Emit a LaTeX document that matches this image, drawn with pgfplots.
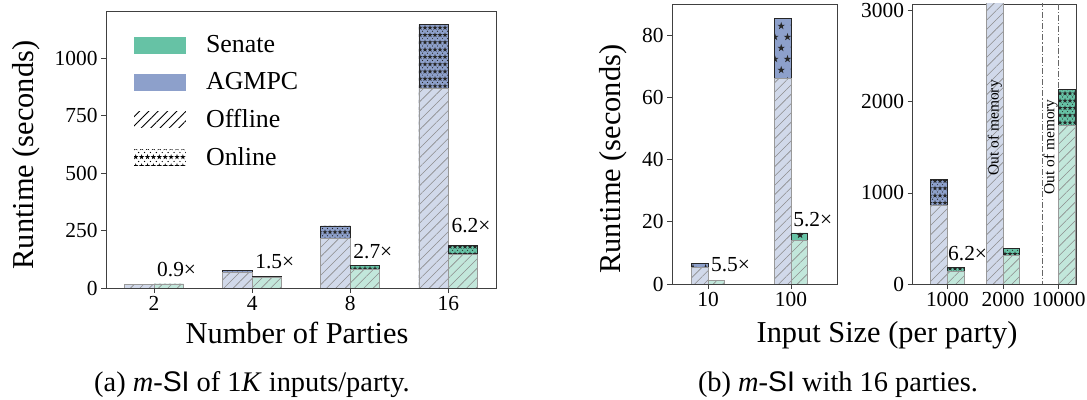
\documentclass[border=0pt]{standalone}
\usepackage{fontspec}
\setmainfont{Liberation Serif}
\setsansfont{Liberation Sans}
\newfontfamily\serifticks{Liberation Serif}
\usepackage{pgfplots}
\pgfplotsset{compat=1.18}
\usepackage{pgfplotstable}
\usetikzlibrary{patterns,patterns.meta}

\definecolor{senate}{HTML}{66C2A5}
\definecolor{agmpc}{HTML}{8DA0CB}
\definecolor{senateL}{RGB}{194,231,219}
\definecolor{agmpcL}{RGB}{209,217,234}

\newcommand\starat[3]{\fill (#1,#2) +(90:#3) -- +(234:#3) -- +(18:#3) -- +(162:#3) -- +(306:#3) -- cycle;}

\tikzdeclarepattern{
  name=starsdense, type=uncolored,
  bounding box={(-2.8bp,-2.6bp) and (3.3bp,4.5bp)},
  tile size={(5bp,7.3bp)},
  code={\starat{0bp}{0bp}{2.7bp}\fill (2.5bp,3.65bp) circle (0.6bp);}
}
\tikzdeclarepattern{
  name=starslegend, type=uncolored,
  bounding box={(-3bp,-3bp) and (3.8bp,5.3bp)},
  tile size={(5.9bp,9bp)},
  code={\starat{0bp}{0bp}{2.8bp}\fill (2.95bp,4.5bp) circle (0.7bp);}
}
\tikzdeclarepattern{
  name=starssparse, type=uncolored,
  bounding box={(-4.2bp,-4.2bp) and (10.6bp,15.2bp)},
  tile size={(12.6bp,22bp)},
  code={\starat{0bp}{0bp}{4bp}\starat{6.3bp}{11bp}{4bp}}
}

\newcommand\tickfont{\serifticks\fontsize{21.5}{21.5}\selectfont}
\newcommand\labfont{\rmfamily\fontsize{30.5}{30.5}\selectfont}
\newcommand\legfont{\rmfamily\fontsize{26}{26}\selectfont}
\newcommand\annfont{\rmfamily\fontsize{21.5}{21.5}\selectfont}
\newcommand\oomfont{\rmfamily\fontsize{15.5}{15.5}\selectfont}
\newcommand\capfont{\rmfamily\fontsize{28.5}{28.5}\selectfont}

\pgfplotsset{
  common/.style={
    scale only axis,
    tick align=outside,
    tick pos=left,
    major tick length=5bp,
    axis line style={black!75, line width=0.8bp},
    every tick/.style={black!75, line width=0.8bp},
    tick label style={font=\tickfont},
    /pgf/number format/assume math mode=true,
    /pgf/number format/1000 sep={},
    scaled y ticks=false,
    ymin=0,
    label style={font=\labfont},
  },
  hatchoff/.style={postaction={pattern color=black!45, pattern={Lines[angle=45,distance=6.6bp,line width=0.6bp]}}},
  agoff/.style={ybar, fill=agmpcL, draw=black!40, line width=0.8bp, hatchoff, forget plot},
  senoff/.style={ybar, fill=senateL, draw=black!40, line width=0.8bp, hatchoff, forget plot},
  agon/.style={ybar, fill=agmpc, draw=black!85, line width=0.8bp, postaction={pattern color=black!85, pattern=#1}, forget plot},
  senon/.style={ybar, fill=senate, draw=black!85, line width=0.8bp, postaction={pattern color=black!85, pattern=#1}, forget plot},
}

% (a) m-SI of 1K inputs/party
\pgfplotstableread{
x off on
0 13.5 2.5
1 66 11
2 217 53
3 868 280
}\agA
\pgfplotstableread{
x off on
0 15 2.8
1 44 8
2 82 16
3 148 39
}\seA
% (b) 16 parties, inputs 10 and 100
\pgfplotstableread{
x off on
0 5.3 1.3
1 66 19.4
}\agB
\pgfplotstableread{
x off on
0 1.0 0.2
1 14.0 2.4
}\seB
% (b) 16 parties, inputs 1000, 2000, 10000
\pgfplotstableread{
x off on
0 862 288
}\agC
\pgfplotstableread{
x off
1 4000
}\agCoom
\pgfplotstableread{
x off on
0 143 42
1 315 77
2 1740 392
}\seC

\begin{document}
\begin{tikzpicture}
\useasboundingbox (0,0) rectangle (1087bp,400bp);

% ---------------- (a)
\begin{axis}[common,
  at={(106bp,112bp)}, anchor=south west,
  width=390bp, height=277bp,
  xmin=-0.49, xmax=3.485, ymax=1206,
  xtick={0,1,2,3}, xticklabels={2,4,8,16},
  ytick={0,250,500,750,1000},
  yticklabels={0,250,500,750,1000},
  xlabel={Number of Parties},
  ylabel={Runtime (seconds)},
  xlabel style={at={(rel axis cs:0.49,-0.1986)}, anchor=base},
  ylabel style={at={(rel axis cs:-0.205,0.48)}, anchor=center},
  legend image code/.code={\draw[#1] (0bp,-9bp) rectangle (53bp,9bp);},
  legend style={at={(rel axis cs:0,1)}, anchor=north west, xshift=24bp, yshift=-21.5bp,
    draw=none, fill=none, font=\legfont, row sep=16.2bp, column sep=18bp,
    nodes={inner sep=1bp}},
  legend cell align=left,
]
\addplot[agon=starsdense, bar width=0.3, bar shift=-0.15] table[x=x, y expr=\thisrow{off}+\thisrow{on}] {\agA};
\addplot[agoff, bar width=0.3, bar shift=-0.15] table[x=x, y=off] {\agA};
\addplot[senon=starsdense, bar width=0.3, bar shift=0.15] table[x=x, y expr=\thisrow{off}+\thisrow{on}] {\seA};
\addplot[senoff, bar width=0.3, bar shift=0.15] table[x=x, y=off] {\seA};

\addlegendimage{fill=senate, draw=white}
\addlegendentry{Senate}
\addlegendimage{fill=agmpc, draw=white}
\addlegendentry{AGMPC}
\addlegendimage{fill=white, draw=white, postaction={pattern color=black, pattern={Lines[angle=45,distance=6.6bp,line width=0.9bp]}}}
\addlegendentry{Offline}
\addlegendimage{fill=white, draw=white, postaction={pattern color=black, pattern=starslegend}}
\addlegendentry{Online}

\node[anchor=base west, font=\annfont, inner sep=0pt] at (axis cs:0.03,49) {0.9×};
\node[anchor=base west, font=\annfont, inner sep=0pt] at (axis cs:1.03,87) {1.5×};
\node[anchor=base west, font=\annfont, inner sep=0pt] at (axis cs:2.03,130) {2.7×};
\node[anchor=base west, font=\annfont, inner sep=0pt] at (axis cs:3.03,240) {6.2×};
\end{axis}

% ---------------- (b) left
\begin{axis}[common,
  at={(672bp,116bp)}, anchor=south west,
  width=165bp, height=280bp,
  xmin=-0.434, xmax=1.554, ymax=90,
  xtick={0,1}, xticklabels={10,100},
  ytick={0,20,40,60,80},
  yticklabels={0,20,40,60,80},
  ylabel={Runtime (seconds)},
  ylabel style={at={(rel axis cs:-0.358,0.446)}, anchor=center},
]
\addplot[agon=starssparse, bar width=0.2, bar shift=-0.1] table[x=x, y expr=\thisrow{off}+\thisrow{on}] {\agB};
\addplot[agoff, bar width=0.2, bar shift=-0.1] table[x=x, y=off] {\agB};
\addplot[senon=starssparse, bar width=0.2, bar shift=0.1] table[x=x, y expr=\thisrow{off}+\thisrow{on}] {\seB};
\addplot[senoff, bar width=0.2, bar shift=0.1] table[x=x, y=off] {\seB};
\node[anchor=base west, font=\annfont, inner sep=0pt] at (axis cs:0.035,3.9) {5.5×};
\node[anchor=base west, font=\annfont, inner sep=0pt] at (axis cs:1.025,18.6) {5.2×};
\end{axis}

% ---------------- (b) right
\begin{axis}[common,
  at={(912.5bp,116bp)}, anchor=south west,
  width=164bp, height=280bp,
  xmin=-0.627, xmax=2.317, ymax=3075,
  xtick={0,1,2}, xticklabels={1000,2000,10000},
  ytick={0,1000,2000,3000},
  yticklabels={0,1000,2000,3000},
]
\addplot[agon=starsdense, bar width=0.3, bar shift=-0.15] table[x=x, y expr=\thisrow{off}+\thisrow{on}] {\agC};
\addplot[agoff, bar width=0.3, bar shift=-0.15] table[x=x, y=off] {\agC};
\addplot[agoff, bar width=0.3, bar shift=-0.15] table[x=x, y=off] {\agCoom};
\addplot[ybar, bar width=0.3, bar shift=-0.15, draw=black!60, fill=none, line width=0.8bp,
  dash pattern=on 6bp off 2bp on 1.2bp off 2bp, forget plot] coordinates {(2,5000)};
\addplot[senon=starsdense, bar width=0.3, bar shift=0.15] table[x=x, y expr=\thisrow{off}+\thisrow{on}] {\seC};
\addplot[senoff, bar width=0.3, bar shift=0.15] table[x=x, y=off] {\seC};
\node[anchor=base west, font=\annfont, inner sep=0pt] at (axis cs:0.01,253) {6.2×};
\node[rotate=90, font=\oomfont, inner sep=0pt] at (axis cs:0.85,1715) {Out of memory};
\node[rotate=90, font=\oomfont, inner sep=0pt] at (axis cs:1.85,1505) {Out of memory};
\end{axis}

\node[anchor=base, font=\labfont] at (887bp,57bp) {Input Size (per party)};
\node[anchor=base, font=\capfont] at (252bp,9bp) {(a) \textit{m}-\textsf{SI} of 1\textit{K} inputs/party.};
\node[anchor=base, font=\capfont] at (838bp,9bp) {(b) \textit{m}-\textsf{SI} with 16 parties.};
\end{tikzpicture}
\end{document}
